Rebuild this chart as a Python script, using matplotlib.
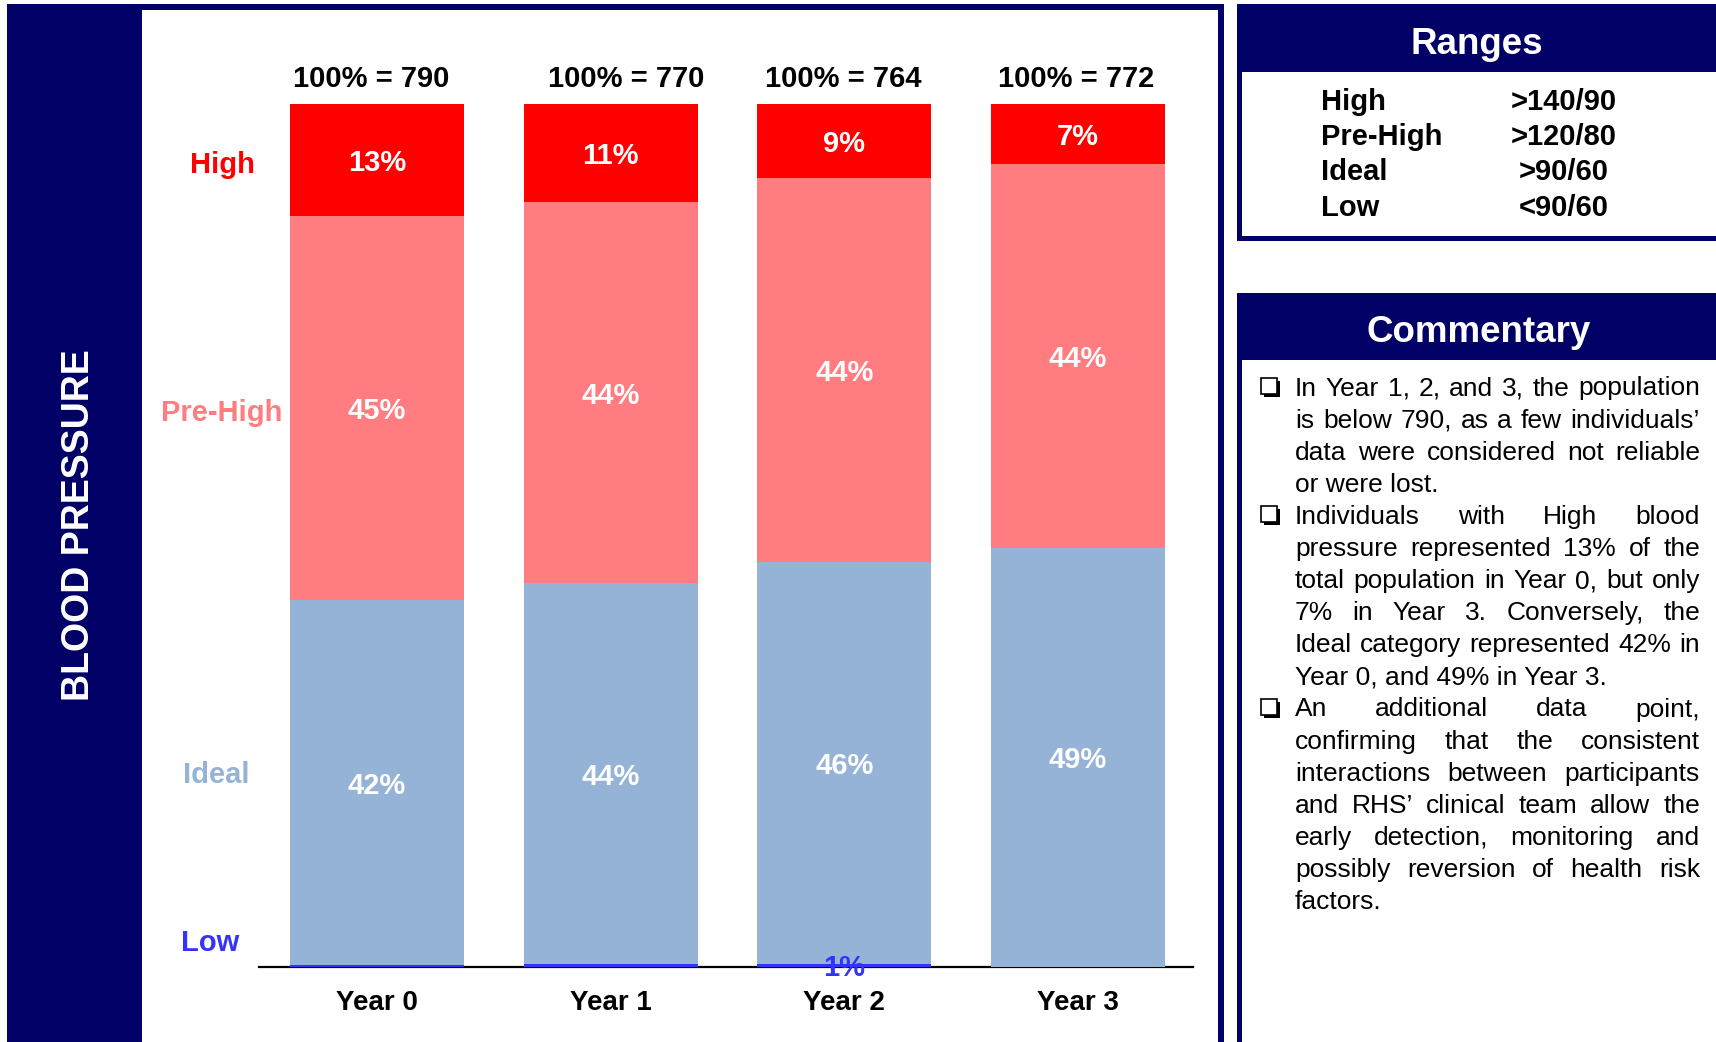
import matplotlib
matplotlib.use('Agg')
import matplotlib.pyplot as plt
from matplotlib.patches import Rectangle

# ---------------- data ----------------
years = ['Year 0', 'Year 1', 'Year 2', 'Year 3']
totals = [790, 770, 764, 772]
low = [0.2, 0.3, 0.4, 0.0]
ideal = [42.3, 44.2, 46.5, 48.6]
prehigh = [44.5, 44.1, 44.5, 44.4]
high = [13.0, 11.4, 8.6, 7.0]
low_labels = ['', '', '1%', '']
ideal_labels = ['42%', '44%', '46%', '49%']
prehigh_labels = ['45%', '44%', '44%', '44%']
high_labels = ['13%', '11%', '9%', '7%']
categories = ['High', 'Pre-High', 'Ideal', 'Low']
range_values = ['>140/90', '>120/80', '>90/60', '<90/60']
commentary = [
    ["In Year 1, 2, and 3, the population",
     "is below 790, as a few individuals\u2019",
     "data were considered not reliable",
     "or were lost."],
    ["Individuals with High blood",
     "pressure represented 13% of the",
     "total population in Year 0, but only",
     "7% in Year 3. Conversely, the",
     "Ideal category represented 42% in",
     "Year 0, and 49% in Year 3."],
    ["An additional data point,",
     "confirming that the consistent",
     "interactions between participants",
     "and RHS\u2019 clinical team allow the",
     "early detection, monitoring and",
     "possibly reversion of health risk",
     "factors."],
]

# ---------------- style ----------------
NAVY = '#000066'
C_HIGH = '#FF0000'
C_PRE = '#FF7C80'
C_IDEAL = '#95B3D7'
C_LOW = '#3333FF'
VA = 'center_baseline'
plt.rcParams['font.family'] = ['Liberation Sans', 'DejaVu Sans']

W, H = 1716, 1042
fig = plt.figure(figsize=(W / 100, H / 100), dpi=100)
fig.patch.set_facecolor('white')

# background / decoration axes in pixel coordinates
bg = fig.add_axes([0, 0, 1, 1], zorder=0)
bg.set_xlim(0, W)
bg.set_ylim(H, 0)
bg.axis('off')

def rect(x0, y0, x1, y1, fc, ec='none', lw=0):
    bg.add_patch(Rectangle((x0, y0), x1 - x0, y1 - y0, facecolor=fc,
                           edgecolor=ec, linewidth=lw))

# main panel frame
rect(7, 5, 142, H, NAVY)
rect(7, 4, 1224, 10, NAVY)
rect(1218, 4, 1224, H, NAVY)
bg.text(79, 525, 'BLOOD PRESSURE', rotation=90, color='white', fontsize=27,
        fontweight='bold', ha='center', va='center')

# Ranges box
rect(1237, 4, W + 5, 241, NAVY)
rect(1242, 72, W + 5, 236, 'white')
bg.text(1477, 40, 'Ranges', color='white', fontsize=26.5, fontweight='bold',
        ha='center', va=VA)
range_y = [99, 134, 169, 205]
for name, val, y in zip(categories, range_values, range_y):
    bg.text(1321, y, name, fontsize=21, fontweight='bold', ha='left', va=VA)
    bg.text(1564, y, val, fontsize=21, fontweight='bold', ha='center', va=VA)

# Commentary box
rect(1237, 293, W + 5, H + 5, NAVY)
rect(1242, 360, W + 5, H + 5, 'white')
bg.text(1479, 328, 'Commentary', color='white', fontsize=26.5, fontweight='bold',
        ha='center', va=VA)

renderer = fig.canvas.get_renderer()
xl, xr = 1295, 1700
base0, dy = 395.5, 32.1
fs = 19
li = 0
for para in commentary:
    for j, line in enumerate(para):
        yb = base0 + dy * li
        if j == 0:
            rect(1264, yb - 15, 1280, yb + 1, 'black')
            rect(1261, yb - 18, 1277, yb - 2, 'white', 'black', 1.2)
        if j == len(para) - 1:
            bg.text(xl, yb, line, fontsize=fs, ha='left', va='baseline')
        else:
            words = line.split(' ')
            ts = [bg.text(0, yb, w, fontsize=fs, ha='left', va='baseline') for w in words]
            widths = [t.get_window_extent(renderer).width for t in ts]
            gap = (xr - xl - sum(widths)) / (len(words) - 1)
            x = xl
            for t, w in zip(ts, widths):
                t.set_x(x)
                x += w + gap
        li += 1

# ---------------- bar chart ----------------
ax_l, ax_r, ax_t, ax_b = 259, 1193, 104, 967
ax = fig.add_axes([ax_l / W, (H - ax_b) / H, (ax_r - ax_l) / W, (ax_b - ax_t) / H],
                  zorder=1)
ax.patch.set_visible(False)
x = list(range(len(years)))
bw = 0.745
b_low = ax.bar(x, low, bw, color=C_LOW)
bot1 = low
b_ideal = ax.bar(x, ideal, bw, bottom=bot1, color=C_IDEAL)
bot2 = [a + b for a, b in zip(bot1, ideal)]
b_pre = ax.bar(x, prehigh, bw, bottom=bot2, color=C_PRE)
bot3 = [a + b for a, b in zip(bot2, prehigh)]
b_high = ax.bar(x, high, bw, bottom=bot3, color=C_HIGH)

ax.set_xlim(-0.505, 3.492)
ax.set_ylim(0, 100)
for s in ['top', 'right', 'left']:
    ax.spines[s].set_visible(False)
ax.spines['bottom'].set_linewidth(1.6)
ax.spines['bottom'].set_color('black')
ax.spines['bottom'].set_zorder(0.5)
ax.set_yticks([])
ax.set_xticks([])

lab_kw = dict(label_type='center', fontsize=21, fontweight='bold')
all_labels = []
all_labels += ax.bar_label(b_high, labels=high_labels, color='white', **lab_kw)
all_labels += ax.bar_label(b_pre, labels=prehigh_labels, color='white', **lab_kw)
all_labels += ax.bar_label(b_ideal, labels=ideal_labels, color='white', **lab_kw)
all_labels += ax.bar_label(b_low, labels=low_labels, color=C_LOW, **lab_kw)
for t in all_labels:
    t.set_va(VA)

top_dx = [-4, 11, -1, -1.5]  # points, horizontal nudges of the total labels
for i, (yr, tot) in enumerate(zip(years, totals)):
    ax.annotate(f'100% = {tot}', xy=(i, 100), xytext=(top_dx[i], 20.5),
                textcoords='offset points', ha='center', va=VA,
                fontsize=21, fontweight='bold', annotation_clip=False)
    ax.annotate(yr, xy=(i, 0), xytext=(0, -24), textcoords='offset points',
                ha='center', va=VA, fontsize=20, fontweight='bold',
                annotation_clip=False)

cat_pos = [(-0.663, 93.3), (-0.663, 64.5), (-0.687, 22.6), (-0.714, 3.1)]
cat_colors = [C_HIGH, C_PRE, C_IDEAL, C_LOW]
for name, (cx, cy), c in zip(categories, cat_pos, cat_colors):
    ax.text(cx, cy, name, color=c, fontsize=21, fontweight='bold',
            ha='center', va=VA, clip_on=False)

fig.savefig('out.png', dpi=100)
